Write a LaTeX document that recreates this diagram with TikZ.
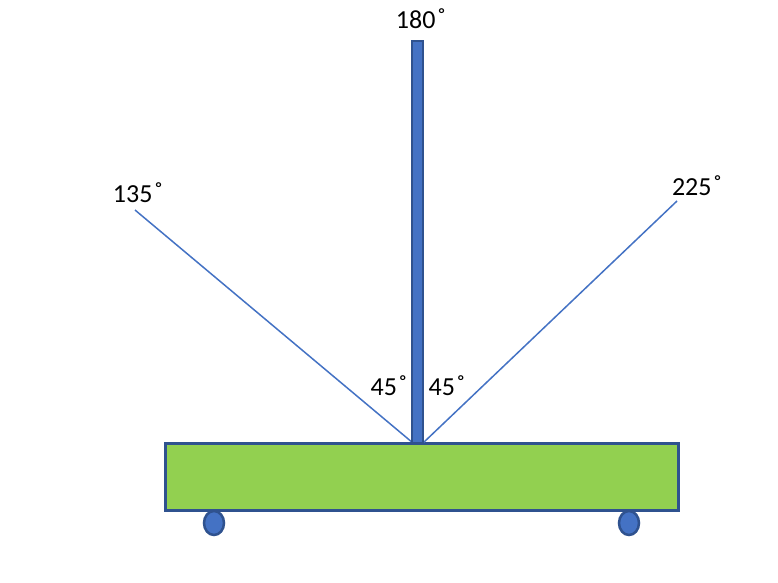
\documentclass[tikz,border=0pt]{standalone}
\usepackage{fontspec}
\setmainfont{Carlito}
\definecolor{edge}{HTML}{2F528F}
\definecolor{acc}{HTML}{4472C4}
\definecolor{grn}{HTML}{92D050}
\newcommand{\dg}{\kern1.5pt{\fontsize{28}{28}\selectfont˚}}
\begin{document}
\begin{tikzpicture}[x=1pt,y=-1pt,
  lbl/.style={font=\fontsize{26}{30}\selectfont, inner sep=0pt, text=black},
  ray/.style={draw=acc, line width=1.5pt}]
\useasboundingbox (0,0) rectangle (778,582);
\fill[white] (0,0) rectangle (778,582);
% base
\draw[edge, line width=3pt, fill=grn] (165,443) rectangle (678,510);
% rays
\coordinate (l0) at (413,443);
\coordinate (l1) at (135,210);
\coordinate (r0) at (423,443);
\coordinate (r1) at (677,201);
\draw[ray] (l0) -- (l1);
\draw[ray] (r0) -- (r1);
% pole
\draw[edge, line width=2pt, fill=acc] (412,41) rectangle (423,443);
% wheels
\draw[edge, line width=2.5pt, fill=acc] (214,523) ellipse (10 and 12);
\draw[edge, line width=2.5pt, fill=acc] (629,523) ellipse (10 and 12);
% labels
\node[lbl] (t180) at (421,19) {180\dg};
\node[lbl] (t135) at (138,193) {135\dg};
\node[lbl] (t225) at (697,186) {225\dg};
\node[lbl] (ta) at (389,386) {45\dg};
\node[lbl] (tb) at (447,386) {45\dg};
\end{tikzpicture}
\end{document}
